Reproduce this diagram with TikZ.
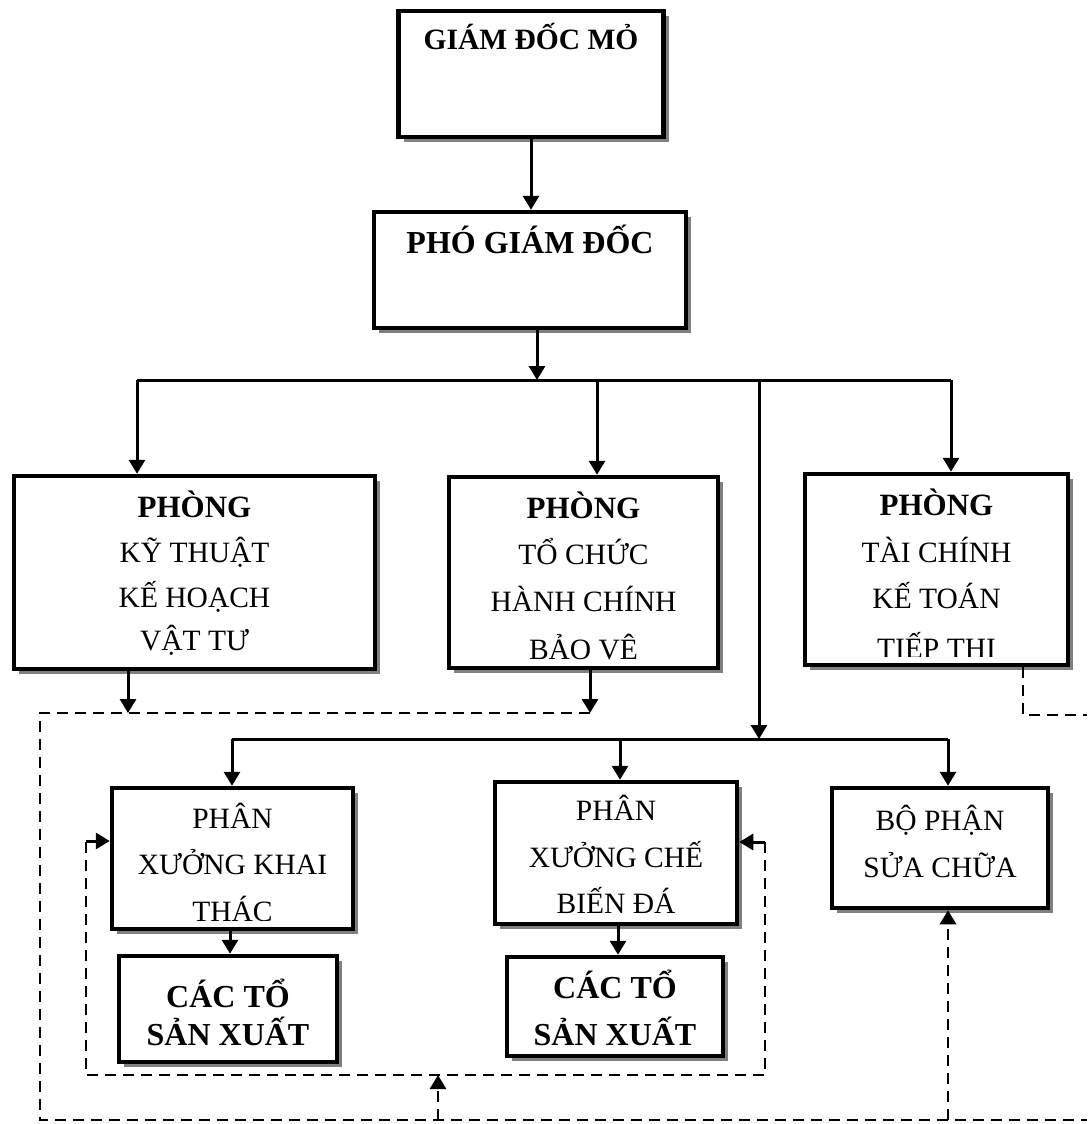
\documentclass[tikz,border=0pt]{standalone}
\usepackage{fontspec}
\setmainfont{Liberation Serif}
\usetikzlibrary{arrows.meta,shadows}
\begin{document}
\begin{tikzpicture}[x=1pt,y=-1pt,
 box/.style={draw,line width=4.5pt,fill=white,inner sep=0pt,drop shadow={shadow xshift=5pt,shadow yshift=-5pt,fill=black!50,opacity=1}},
 conn/.style={line width=3pt,-{Triangle[length=14pt,width=16pt]}},
 busline/.style={line width=3pt},
 dline/.style={line width=2.7pt,dash pattern=on 11pt off 7pt},
 darrow/.style={dline,-{Triangle[length=14pt,width=16pt]}},
 tl/.style={anchor=base,inner sep=0pt,font=\fontsize{29.5}{35}\selectfont},
 tb/.style={anchor=base,inner sep=0pt,font=\fontsize{31}{37}\selectfont\bfseries},
]
\useasboundingbox (0,0) rectangle (1087,1124);

% boxes
\node[box,minimum width=265pt,minimum height=126pt] (B1) at (531,74) {};
\node[box,minimum width=312pt,minimum height=116pt] (B2) at (530,270) {};
\node[box,minimum width=361pt,minimum height=193pt] (A) at (194.5,572.5) {};
\node[box,minimum width=269pt,minimum height=191pt] (B) at (583.5,572.5) {};
\node[box,minimum width=263pt,minimum height=191pt] (C) at (936.5,569.5) {};
\node[box,minimum width=241pt,minimum height=141pt] (D) at (232.5,858.5) {};
\node[box,minimum width=242pt,minimum height=142pt] (E) at (616,853) {};
\node[box,minimum width=216pt,minimum height=120pt] (F) at (940,848) {};
\node[box,minimum width=218pt,minimum height=106pt] (G) at (228,1009) {};
\node[box,minimum width=216pt,minimum height=99pt] (H) at (615,1006.5) {};

% texts
\node[tb,font=\fontsize{29.5}{35}\selectfont\bfseries] (B1t) at (531,49) {GIÁM ĐỐC MỎ};
\node[tb,font=\fontsize{32}{38}\selectfont\bfseries] (B2t) at (530,253) {PHÓ GIÁM ĐỐC};

\begin{scope}
\clip ([yshift=11pt]A.south west) rectangle (A.north east);
\node[tb] (A1) at (194.5,517) {PHÒNG};
\node[tl] (A2) at (194.5,562) {KỸ THUẬT};
\node[tl] (A3) at (194.5,607) {KẾ HOẠCH};
\node[tl] (A4) at (194.5,650) {VẬT TƯ};
\end{scope}
\begin{scope}
\clip ([yshift=11pt]B.south west) rectangle (B.north east);
\node[tb] (Bt1) at (583.5,518) {PHÒNG};
\node[tl] (Bt2) at (583.5,564) {TỔ CHỨC};
\node[tl] (Bt3) at (583.5,611) {HÀNH CHÍNH};
\node[tl] (Bt4) at (583.5,659) {BẢO VỆ};
\end{scope}
\begin{scope}
\clip ([yshift=11pt]C.south west) rectangle (C.north east);
\node[tb] (C1) at (936.5,515) {PHÒNG};
\node[tl] (C2) at (936.5,562) {TÀI CHÍNH};
\node[tl] (C3) at (936.5,608) {KẾ TOÁN};
\node[tl] (C4) at (936.5,658) {TIẾP THỊ};
\end{scope}
\begin{scope}
\clip ([yshift=11pt]D.south west) rectangle (D.north east);
\node[tl] (D1) at (232.5,828) {PHÂN};
\node[tl] (D2) at (232.5,874) {XƯỞNG KHAI};
\node[tl] (D3) at (232.5,921) {THÁC};
\end{scope}
\node[tl] (E1) at (616,820) {PHÂN};
\node[tl] (E2) at (616,867) {XƯỞNG CHẾ};
\node[tl] (E3) at (616,913) {BIẾN ĐÁ};
\node[tl] (F1) at (940,830) {BỘ PHẬN};
\node[tl] (F2) at (940,877) {SỬA CHỮA};
\node[tb,font=\fontsize{32}{38}\selectfont\bfseries] (G1) at (228,1007) {CÁC TỔ};
\node[tb,font=\fontsize{32}{38}\selectfont\bfseries] (G2) at (228,1045) {SẢN XUẤT};
\node[tb,font=\fontsize{32}{38}\selectfont\bfseries] (H1) at (615,998) {CÁC TỔ};
\node[tb,font=\fontsize{32}{38}\selectfont\bfseries] (H2) at (615,1045) {SẢN XUẤT};

% coordinates
\coordinate (bus1L) at (137,380);
\coordinate (bus1R) at (951,380);
\coordinate (bus1in) at (537,380);
\coordinate (bus1B) at (597,380);
\coordinate (bus1M) at (759,380);
\coordinate (bus2L) at (232,739);
\coordinate (bus2R) at (948,739);
\coordinate (bus2E) at (620,739);
\coordinate (bus2M) at (759,739);
\coordinate (dA) at (128,713);
\coordinate (dB) at (590,713);
\coordinate (dTL) at (40,713);
\coordinate (dBL) at (40,1120);
\coordinate (dBR) at (1087,1120);
\coordinate (dC1) at (1023,715);
\coordinate (dC2) at (1087,715);
\coordinate (dMid) at (438,1120);
\coordinate (dMidT) at (438,1075);
\coordinate (iL) at (86,1075);
\coordinate (iLT) at (86,841);
\coordinate (iR) at (765,1075);
\coordinate (iRT) at (765,842);
\coordinate (dF) at (948,1120);

% solid connectors
\draw[conn] (B1.south) -- (B1.south |- B2.north);
\draw[conn] (B2.south -| bus1in) -- (bus1in);
\draw[busline] (bus1L) -- (bus1R);
\draw[conn] (bus1L) -- (bus1L |- A.north);
\draw[conn] (bus1B) -- (bus1B |- B.north);
\draw[conn] (bus1R) -- (bus1R |- C.north);
\draw[conn] (bus1M) -- (bus2M);
\draw[busline] (bus2L) -- (bus2R);
\draw[conn] (bus2L) -- (bus2L |- D.north);
\draw[conn] (bus2E) -- (bus2E |- E.north);
\draw[conn] (bus2R) -- (bus2R |- F.north);
\draw[conn] (D.south -| 230,0) -- (230,0 |- G.north);
\draw[conn] (E.south -| 618,0) -- (618,0 |- H.north);
\draw[conn] (A.south -| dA) -- (dA);
\draw[conn] (B.south -| dB) -- (dB);

% dashed connectors
\draw[dline] (dB) -- (dTL) -- (dBL) -- (dBR);
\draw[dline] (C.south -| dC1) -- (dC1) -- (dC2);
\draw[darrow] (dMid) -- (dMidT);
\draw[dline] (iRT) -- (iR) -- (iL) -- (iLT);
\draw[conn] (iLT) -- (iLT -| D.west);
\draw[conn] (iRT) -- (iRT -| E.east);
\draw[darrow] (dF) -- (dF |- F.south);
\end{tikzpicture}
\end{document}
